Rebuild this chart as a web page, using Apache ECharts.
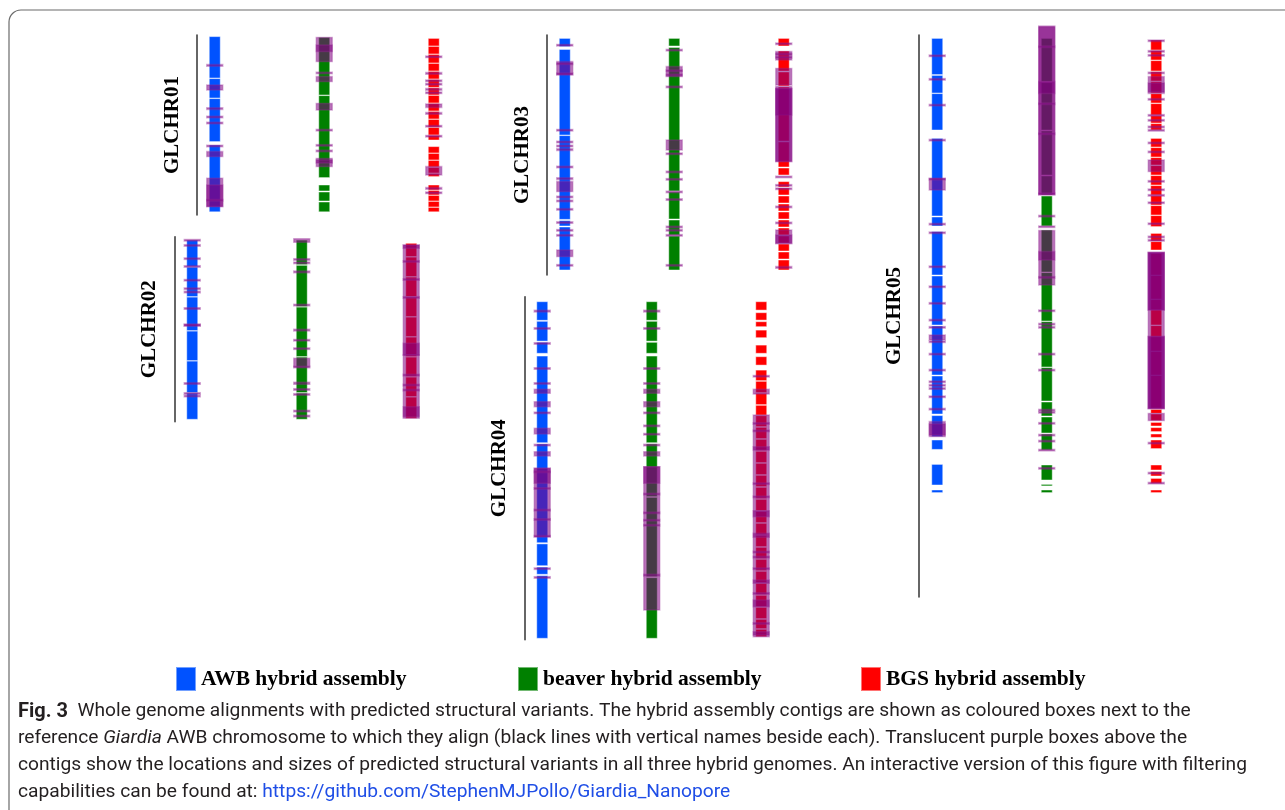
<!DOCTYPE html>
<html>
<head>
<meta charset="utf-8">
<title>Whole genome alignments</title>
<script src="https://cdn.jsdelivr.net/npm/echarts@6/dist/echarts.min.js"></script>
<style>
  html, body { margin: 0; padding: 0; background: #fff; }
  #container { width: 1285px; height: 810px; }
</style>
</head>
<body>
<div id="container"></div>
<script>
// tracks (assemblies) and chromosomes
var assemblies = ['AWB hybrid assembly', 'beaver hybrid assembly', 'BGS hybrid assembly'];
var chromNames = ['GLCHR01', 'GLCHR02', 'GLCHR03', 'GLCHR04', 'GLCHR05'];
var chromLength = [900, 925, 1200, 1715, 2810]; // kb

// contigs [start, end] in kb, per chromosome
var awb1 = [[8,215],[218,315],[318,533],[550,884]];
var bea1 = [[12,300],[303,713],[750,780],[785,830],[835,884]];
var bgs1 = [[17,55],[57,95],[97,140],[142,180],[182,220],[222,262],[264,300],[302,340],[342,380],[382,420],[422,460],[462,500],[502,525],[558,590],[592,625],[627,660],[662,690],[692,708],[750,775],[777,800],[802,830],[832,860],[862,884]];

var awb2 = [[17,150],[152,300],[302,470],[472,620],[622,780],[782,913]];
var bea2 = [[17,140],[143,350],[352,600],[602,780],[782,913]];
var bgs2 = [[33,100],[102,200],[202,300],[302,400],[402,500],[502,600],[602,700],[702,800],[802,908]];

var awb3 = [[17,58],[72,500],[503,922],[928,955],[960,1175]];
var bea3 = [[17,55],[62,780],[785,920],[925,1000],[1005,1175]];
var bgs3 = [[17,55],[80,180],[185,255],[260,530],[535,660],[665,700],[733,760],[765,800],[805,840],[845,880],[885,920],[925,960],[965,1000],[1005,1040],[1045,1080],[1085,1120],[1125,1175]];

var awb4 = [[25,118],[123,222],[228,283],[297,730],[736,1230],[1236,1345],[1352,1388],[1395,1708]];
var bea4 = [[25,118],[123,222],[228,283],[297,730],[736,1000],[1003,1400],[1405,1708]];
var bgs4 = [[25,67],[80,117],[125,150],[167,205],[242,283],[300,342],[367,420],[423,480],[483,540],[543,592],[595,650],[653,710],[713,770],[773,830],[833,890],[893,950],[953,1010],[1013,1070],[1073,1130],[1133,1190],[1193,1250],[1253,1310],[1313,1370],[1373,1430],[1433,1490],[1493,1550],[1553,1610],[1613,1660],[1663,1700]];

var awb5 = [[17,198],[202,290],[293,475],[517,905],[910,955],[983,1200],[1205,1450],[1455,1700],[1705,1895],[1903,2008],[2025,2072],[2147,2250],[2275,2288]];
var bea5 = [[17,233],[238,475],[480,700],[705,800],[805,955],[975,1185],[1188,1430],[1433,1660],[1663,1830],[1835,1905],[1910,1990],[1995,2075],[2150,2225],[2247,2252],[2275,2288]];
var bgs5 = [[25,75],[78,125],[128,180],[183,230],[233,290],[293,340],[343,400],[403,440],[443,475],[517,560],[563,610],[613,650],[653,700],[703,750],[753,800],[803,850],[853,900],[903,958],[992,1030],[1033,1075],[1092,1200],[1203,1320],[1323,1450],[1453,1580],[1583,1700],[1703,1867],[1872,1892],[1895,1928],[1937,1955],[1963,1983],[1995,2012],[2025,2068],[2150,2175],[2183,2205],[2217,2242],[2275,2288]];

// structural variants [track, start, end] in kb
var sv1 = [[0,148,156],[0,250,275],[0,364,372],[0,406,414],[0,436,444],[0,551,559],[0,583,608],[0,716,858],[0,750,858],[0,822,830],
  [1,12,133],[1,50,83],[1,186,192],[1,208,233],[1,342,375],[1,472,478],[1,548,554],[1,576,582],[1,617,658],[1,625,640],
  [2,105,113],[2,188,196],[2,225,233],[2,242,250],[2,268,276],[2,285,293],[2,345,362],[2,388,396],[2,452,460],[2,502,510],[2,658,700],[2,763,771],[2,785,793]];
var sv2 = [[0,14,22],[0,40,46],[0,106,112],[0,145,150],[0,214,220],[0,256,262],[0,273,279],[0,355,363],[0,438,446],[0,438,446],[0,730,738],[0,780,786],[0,793,799],
  [1,10,28],[1,110,116],[1,127,133],[1,172,180],[1,338,344],[1,463,471],[1,514,520],[1,556,562],[1,608,650],[1,648,654],[1,728,738],[1,760,766],[1,785,791],[1,868,874],[1,893,899],
  [2,42,592],[2,42,58],[2,120,126],[2,210,216],[2,300,306],[2,533,592],[2,592,908],[2,688,694],[2,738,744],[2,763,769],[2,850,900]];
var sv3 = [[0,47,55],[0,133,200],[0,140,146],[0,190,196],[0,472,480],[0,531,539],[0,551,559],[0,569,577],[0,656,664],[0,714,722],[0,733,783],[0,806,812],[0,826,832],[0,868,874],[0,934,940],[0,973,979],[0,998,1004],[0,1075,1108],[0,1148,1154],
  [1,72,78],[1,158,208],[1,175,181],[1,196,202],[1,256,262],[1,525,575],[1,590,596],[1,681,687],[1,718,724],[1,781,787],[1,819,825],[1,956,962],[1,973,979],[1,998,1004],[1,1148,1154],
  [2,40,46],[2,83,125],[2,92,98],[2,108,114],[2,167,250],[2,258,633],[2,267,400],[2,267,633],[2,706,712],[2,748,754],[2,765,771],[2,856,862],[2,936,942],[2,975,1042],[2,1000,1042],[2,1158,1166]];
var sv4 = [[0,68,76],[0,155,161],[0,230,236],[0,355,363],[0,430,436],[0,463,483],[0,525,550],[0,577,583],[0,658,686],[0,738,744],[0,775,796],[0,858,1200],[0,858,933],[0,872,878],[0,955,961],[0,1063,1069],[0,1110,1116],[0,1194,1200],[0,1356,1362],[0,1400,1406],
  [1,68,76],[1,155,161],[1,355,363],[1,430,436],[1,463,483],[1,525,550],[1,577,583],[1,642,648],[1,684,690],[1,738,744],[1,775,796],[1,850,1567],[1,850,933],[1,983,989],[1,1077,1083],[1,1114,1120],[1,1139,1145],[1,1388,1396],
  [2,394,400],[2,463,487],[2,592,1700],[2,630,636],[2,667,673],[2,750,767],[2,931,937],[2,997,1003],[2,1070,1100],[2,1183,1203],[2,1273,1279],[2,1298,1304],[2,1356,1362],[2,1417,1433],[2,1480,1486],[2,1517,1550],[2,1630,1636],[2,1675,1692]];
var sv5 = [[0,100,108],[0,218,225],[0,347,353],[0,522,528],[0,717,775],[0,717,722],[0,942,948],[0,985,992],[0,1155,1162],[0,1255,1262],[0,1338,1345],[0,1422,1428],[0,1458,1465],[0,1500,1525],[0,1530,1537],[0,1592,1598],[0,1672,1678],[0,1730,1737],[0,1748,1754],[0,1764,1770],[0,1805,1812],[0,1867,1873],[0,1933,2008],[0,1945,2000],
  [1,-45,800],[1,-40,795],[1,233,292],[1,55,62],[1,340,345],[1,490,495],[1,790,797],[1,902,908],[1,955,961],[1,978,1250],[1,1083,1125],[1,1208,1215],[1,1375,1382],[1,1442,1448],[1,1458,1465],[1,1592,1598],[1,1672,1678],[1,1872,1878],[1,1883,1890],[1,1938,1945],[1,1997,2003],[1,2027,2033],[1,2072,2078],[1,2163,2170],
  [2,25,32],[2,78,82],[2,98,102],[2,186,192],[2,208,292],[2,240,285],[2,318,322],[2,398,402],[2,423,427],[2,456,462],[2,473,477],[2,536,540],[2,581,585],[2,625,683],[2,728,732],[2,770,774],[2,798,802],[2,835,840],[2,940,945],[2,1006,1010],[2,1023,1027],[2,1088,1867],[2,1088,1375],[2,1088,1375],[2,1508,1867],[2,1508,1867],[2,1892,1928],[2,2037,2041],[2,2187,2191],[2,2237,2241]];

var contigs = [[awb1, bea1, bgs1], [awb2, bea2, bgs2], [awb3, bea3, bgs3], [awb4, bea4, bgs4], [awb5, bea5, bgs5]];
var svs = [sv1, sv2, sv3, sv4, sv5];

var colors = ['#0052ff', '#008000', '#ff0000'];

// panel layout: grid rect and the chromosome line x
var panels = [
  { left: 160,   top: 35,    height: 180, lineX: 197 },
  { left: 137.5, top: 236.7, height: 185, lineX: 174.3 },
  { left: 510,   top: 35,    height: 240, lineX: 546.7 },
  { left: 487.5, top: 296.7, height: 343, lineX: 524.3 },
  { left: 882.5, top: 35,    height: 562, lineX: 919 }
];
var trackStep = 109.5;

function boxItem(w, thinOpacity) {
  return function (params, api) {
    var p0 = api.coord([api.value(0), api.value(1)]);
    var p1 = api.coord([api.value(0), api.value(2)]);
    var h = Math.max(p1[1] - p0[1], 1.5);
    var style = api.style();
    // narrow variants read as solid dark bars in the figure
    if (thinOpacity && h < 2.5) style.opacity = thinOpacity;
    return {
      type: 'rect',
      shape: { x: p0[0] - w / 2, y: p0[1], width: w, height: h },
      style: style
    };
  };
}

var grids = [], xAxes = [], yAxes = [], series = [];
panels.forEach(function (p, i) {
  grids.push({ left: p.left, top: p.top, width: trackStep * 3, height: p.height });
  xAxes.push({ gridIndex: i, type: 'category', data: assemblies, show: false });
  yAxes.push({
    gridIndex: i, type: 'value', inverse: true, min: 0, max: chromLength[i],
    offset: p.left - p.lineX,
    axisLine: { show: true, lineStyle: { color: '#333', width: 1.5 } },
    axisTick: { show: false }, axisLabel: { show: false }, splitLine: { show: false },
    name: chromNames[i], nameLocation: 'middle', nameRotate: 90, nameGap: 14,
    nameTextStyle: { fontFamily: 'Liberation Serif', fontWeight: 'bold', fontSize: 21, color: '#000' }
  });
  contigs[i].forEach(function (list, t) {
    series.push({
      type: 'custom', name: assemblies[t], xAxisIndex: i, yAxisIndex: i,
      renderItem: boxItem(11),
      itemStyle: { color: colors[t], borderColor: 'rgba(255,255,255,0.45)', borderWidth: 1 },
      data: list.map(function (c) { return [t, c[0], c[1]]; })
    });
  });
  series.push({
    type: 'custom', name: 'SV', xAxisIndex: i, yAxisIndex: i,
    renderItem: boxItem(16, 1.6),
    itemStyle: { color: 'rgba(128,0,128,0.55)', borderColor: 'rgba(150,40,150,0.35)', borderWidth: 1.5 },
    data: svs[i]
  });
});

var legendText = { fontFamily: 'Liberation Serif', fontWeight: 'bold', fontSize: 21.5, color: '#000' };
var legendLeft = [175, 517, 860];
var legends = assemblies.map(function (a, k) {
  return {
    left: legendLeft[k], top: 666, padding: 0, itemWidth: 20, itemHeight: 24,
    icon: 'rect', data: [a], textStyle: legendText, selectedMode: false
  };
});

var caption = [
  '{fig|Fig. 3}  Whole genome alignments with predicted structural variants. The hybrid assembly contigs are shown as coloured boxes next to the',
  'reference {it|Giardia} AWB chromosome to which they align (black lines with vertical names beside each). Translucent purple boxes above the',
  'contigs show the locations and sizes of predicted structural variants in all three hybrid genomes. An interactive version of this figure with filtering',
  'capabilities can be found at: {link|https://github.com/StephenMJPollo/Giardia_Nanopore}'
];

var chart = echarts.init(document.getElementById('container'));
chart.setOption({
  backgroundColor: '#fff',
  animation: false,
  title: {
    left: 18, top: 698, padding: 0,
    text: caption.join('\n'),
    textStyle: {
      fontFamily: 'Roboto', fontWeight: 'normal', fontSize: 19.2, lineHeight: 27, color: '#231f20',
      rich: {
        fig: { fontFamily: 'Roboto', fontWeight: 'bold', fontSize: 20, lineHeight: 27, color: '#231f20' },
        it: { fontFamily: 'Roboto', fontStyle: 'italic', fontSize: 19.2, lineHeight: 27, color: '#231f20' },
        link: { fontFamily: 'Roboto', fontSize: 19.2, lineHeight: 27, color: '#1f4ee6' }
      }
    }
  },
  graphic: [{
    type: 'rect', silent: true,
    shape: { x: 9, y: 10, width: 1300, height: 830, r: 12 },
    style: { fill: 'none', stroke: '#6b6b6b', lineWidth: 1.2 }
  }],
  legend: legends,
  grid: grids,
  xAxis: xAxes,
  yAxis: yAxes,
  series: series
});
</script>
</body>
</html>
